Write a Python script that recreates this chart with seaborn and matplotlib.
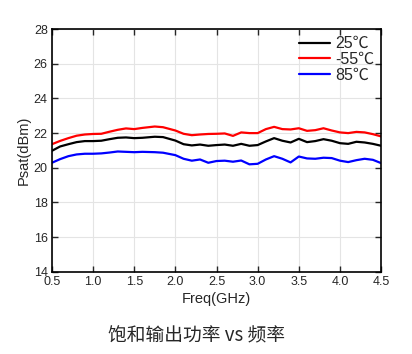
import numpy as np
import pandas as pd
import matplotlib
matplotlib.use("Agg")
import matplotlib.pyplot as plt
import seaborn as sns

# frequency points (GHz)
freq = [0.5, 0.6, 0.7, 0.8, 0.9, 1.0, 1.1, 1.2, 1.3, 1.4, 1.5, 1.6, 1.75, 1.85,
        2.0, 2.1, 2.2, 2.3, 2.4, 2.5, 2.6, 2.7, 2.8, 2.9, 3.0, 3.1, 3.2, 3.3,
        3.4, 3.5, 3.6, 3.7, 3.8, 3.9, 4.0, 4.1, 4.2, 4.3, 4.4, 4.5]

psat_25 = [20.98, 21.23, 21.36, 21.48, 21.54, 21.54, 21.56, 21.65, 21.73, 21.75,
           21.71, 21.73, 21.79, 21.77, 21.57, 21.36, 21.29, 21.34, 21.27, 21.31,
           21.34, 21.27, 21.38, 21.27, 21.31, 21.52, 21.71, 21.56, 21.46, 21.67,
           21.48, 21.54, 21.65, 21.56, 21.42, 21.38, 21.50, 21.46, 21.38, 21.27]

psat_m55 = [21.36, 21.55, 21.71, 21.85, 21.92, 21.95, 21.96, 22.08, 22.19, 22.27,
            22.23, 22.30, 22.38, 22.34, 22.15, 21.96, 21.88, 21.92, 21.95, 21.96,
            21.98, 21.84, 22.04, 22.00, 22.00, 22.23, 22.36, 22.23, 22.21, 22.28,
            22.13, 22.17, 22.28, 22.15, 22.04, 22.00, 22.07, 22.04, 21.94, 21.81]

psat_85 = [20.29, 20.50, 20.67, 20.77, 20.81, 20.81, 20.83, 20.88, 20.94, 20.92,
           20.90, 20.92, 20.90, 20.87, 20.73, 20.52, 20.41, 20.48, 20.29, 20.39,
           20.41, 20.35, 20.42, 20.20, 20.23, 20.48, 20.67, 20.52, 20.31, 20.65,
           20.54, 20.52, 20.58, 20.56, 20.41, 20.33, 20.44, 20.52, 20.46, 20.27]

labels = ["25\u2103", "-55\u2103", "85\u2103"]
colors = ["black", "#ff0000", "#0000ff"]

df = pd.concat([
    pd.DataFrame({"freq": freq, "psat": psat_25, "temp": labels[0]}),
    pd.DataFrame({"freq": freq, "psat": psat_m55, "temp": labels[1]}),
    pd.DataFrame({"freq": freq, "psat": psat_85, "temp": labels[2]}),
])

sns.set_style("white")
plt.rcParams['font.family'] = ['Liberation Sans', 'Noto Sans CJK SC', 'DejaVu Sans']

fig = plt.figure(figsize=(4.12, 3.54), dpi=100)
ax = fig.add_axes([0.126, 0.232, 0.799, 0.686])

sns.lineplot(data=df, x="freq", y="psat", hue="temp", palette=colors,
             linewidth=1.6, ax=ax)

ax.set_xlim(0.5, 4.5)
ax.set_ylim(14, 28)
ax.set_xticks(np.arange(0.5, 4.51, 0.5))
ax.set_yticks(np.arange(14, 28.1, 2))
ax.set_xticklabels([f"{v:.1f}" for v in np.arange(0.5, 4.51, 0.5)])
ax.grid(True, color="#e4e4e4", linewidth=0.8)
ax.tick_params(direction="in", length=4, width=1, labelsize=9,
               top=True, right=True, bottom=True, left=True, pad=3)
for s in ax.spines.values():
    s.set_color("black")
    s.set_linewidth(1.2)

ax.set_xlabel("Freq(GHz)", fontsize=10.5, labelpad=3)
ax.set_ylabel("Psat(dBm)", fontsize=10.5, labelpad=2)

leg = ax.legend(loc="upper right", frameon=False, fontsize=11.5,
                handlelength=1.95, handletextpad=0.3, labelspacing=0.05,
                borderaxespad=0.1, borderpad=0.35)
leg.set_title(None)

fig.text(0.478, 0.052, "饱和输出功率 vs 频率", ha="center", va="center",
         fontsize=13.5, family=['Noto Sans CJK SC', 'DejaVu Sans'])

fig.savefig("out.png", dpi=100, facecolor="white")
